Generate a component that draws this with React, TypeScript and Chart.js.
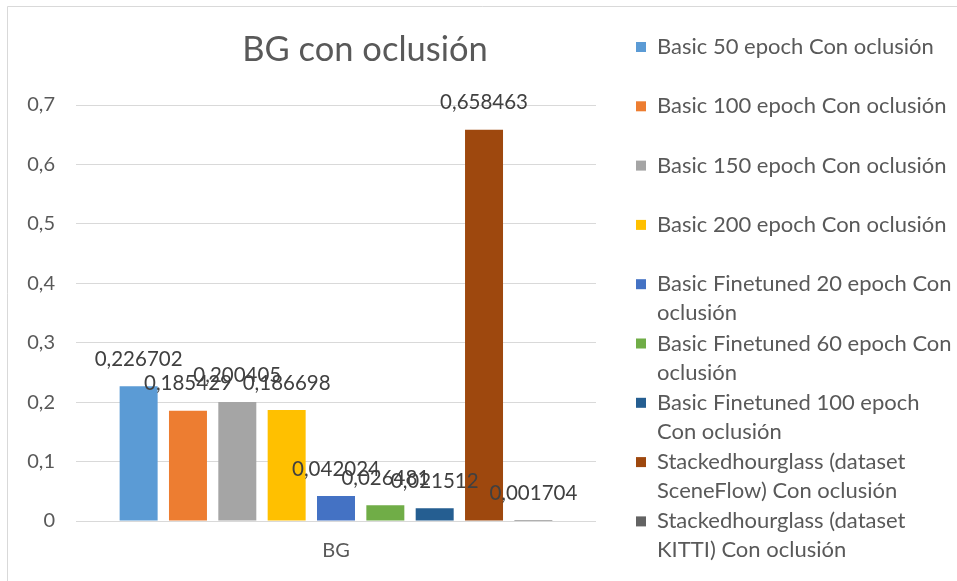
import React, { useEffect, useRef } from "react";
import { Chart, registerables } from "chart.js";

Chart.register(...registerables);

// Category and series data
const categories = ["BG"];
const seriesNames = [
  "Basic 50 epoch Con oclusión",
  "Basic 100 epoch Con oclusión",
  "Basic 150 epoch Con oclusión",
  "Basic 200 epoch Con oclusión",
  "Basic Finetuned 20 epoch Con oclusión",
  "Basic Finetuned 60 epoch Con oclusión",
  "Basic Finetuned 100 epoch Con oclusión",
  "Stackedhourglass (dataset SceneFlow) Con oclusión",
  "Stackedhourglass (dataset KITTI) Con oclusión",
];
const seriesValues = [
  0.226702, 0.185429, 0.200405, 0.186698, 0.042024, 0.026481, 0.021512, 0.658463, 0.001704,
];
const seriesColors = [
  "#5B9BD5",
  "#ED7D31",
  "#A5A5A5",
  "#FFC000",
  "#4472C4",
  "#70AD47",
  "#255E91",
  "#9E480E",
  "#636363",
];
const titleText = "BG con oclusión";
const yMin = 0;
const yMax = 0.7;
const yStep = 0.1;

const FONT = "Lato, 'Open Sans', sans-serif";
const TEXT = "#595959";

const fmtNumber = (v: number) => String(v).replace(".", ",");

function wrapText(ctx: CanvasRenderingContext2D, text: string, maxWidth: number): string[] {
  const words = text.split(" ");
  const lines: string[] = [];
  let cur = "";
  for (const w of words) {
    const next = cur ? cur + " " + w : w;
    if (cur && ctx.measureText(next).width > maxWidth) {
      lines.push(cur);
      cur = w;
    } else {
      cur = next;
    }
  }
  if (cur) lines.push(cur);
  return lines;
}

const framePlugin = {
  id: "frame",
  beforeDraw(chart: any) {
    const { ctx, width, height } = chart;
    ctx.save();
    ctx.fillStyle = "#ffffff";
    ctx.fillRect(0, 0, width, height);
    ctx.strokeStyle = "#d9d9d9";
    ctx.lineWidth = 1;
    ctx.beginPath();
    ctx.moveTo(7.5, height);
    ctx.lineTo(7.5, 6.5);
    ctx.lineTo(width, 6.5);
    ctx.stroke();
    ctx.restore();
  },
};

const titlePlugin = {
  id: "customTitle",
  afterDraw(chart: any) {
    const { ctx } = chart;
    ctx.save();
    ctx.font = `34.5px ${FONT}`;
    ctx.fillStyle = TEXT;
    ctx.textAlign = "center";
    ctx.textBaseline = "middle";
    ctx.fillText(titleText, 365, 50);
    ctx.restore();
  },
};

const valueLabelPlugin = {
  id: "valueLabels",
  afterDatasetsDraw(chart: any) {
    const { ctx } = chart;
    ctx.save();
    ctx.font = `20.5px ${FONT}`;
    ctx.fillStyle = "#404040";
    ctx.textAlign = "center";
    ctx.textBaseline = "middle";
    chart.data.datasets.forEach((ds: any, i: number) => {
      const meta = chart.getDatasetMeta(i);
      meta.data.forEach((bar: any, j: number) => {
        ctx.fillText(fmtNumber(ds.data[j]), bar.x, bar.y - 27);
      });
    });
    ctx.restore();
  },
};

const legendPlugin = {
  id: "sideLegend",
  afterDraw(chart: any) {
    const { ctx } = chart;
    const x0 = 636;
    const textX = 657;
    const firstY = 47;
    const rowStep = 59.3;
    const lineStep = 29;
    ctx.save();
    ctx.font = `22px ${FONT}`;
    ctx.textAlign = "left";
    ctx.textBaseline = "middle";
    chart.data.datasets.forEach((ds: any, i: number) => {
      const y = firstY + i * rowStep;
      ctx.fillStyle = ds.backgroundColor;
      ctx.fillRect(x0, y - 5, 10, 10);
      ctx.fillStyle = TEXT;
      const lines = wrapText(ctx, ds.label, 300);
      lines.forEach((ln, k) => ctx.fillText(ln, textX, y + k * lineStep));
    });
    ctx.restore();
  },
};

export default function App() {
  const canvasRef = useRef<HTMLCanvasElement | null>(null);

  useEffect(() => {
    if (!canvasRef.current) return;
    const chart = new Chart(canvasRef.current, {
      type: "bar",
      data: {
        labels: categories,
        datasets: seriesNames.map((name, i) => ({
          label: name,
          data: [seriesValues[i]],
          backgroundColor: seriesColors[i],
          borderWidth: 0,
          categoryPercentage: 0.854,
          barPercentage: 0.77,
        })),
      },
      options: {
        animation: false,
        responsive: true,
        maintainAspectRatio: false,
        layout: { padding: { left: 0, top: 105, right: 361, bottom: 0 } },
        plugins: {
          legend: { display: false },
          title: { display: false },
          tooltip: { enabled: false },
        },
        scales: {
          x: {
            grid: { display: false, drawTicks: false },
            border: { display: false },
            ticks: {
              color: TEXT,
              font: { family: FONT, size: 20 },
              padding: 18,
            },
            afterFit: (scale: any) => {
              scale.height = 60;
            },
          },
          y: {
            min: yMin,
            max: yMax,
            grid: { color: "#d9d9d9", lineWidth: 1, drawTicks: false },
            border: { display: false },
            ticks: {
              stepSize: yStep,
              color: TEXT,
              font: { family: FONT, size: 20 },
              padding: 21,
              callback: (v: any) => (Number(v) === 0 ? "0" : Number(v).toFixed(1).replace(".", ",")),
            },
            afterFit: (scale: any) => {
              scale.width = 76;
            },
          },
        },
      },
      plugins: [framePlugin, titlePlugin, valueLabelPlugin, legendPlugin],
    });
    return () => chart.destroy();
  }, []);

  return (
    <div style={{ position: "fixed", left: 0, top: 0, width: 957, height: 581, background: "#fff" }}>
      <canvas ref={canvasRef} />
    </div>
  );
}
